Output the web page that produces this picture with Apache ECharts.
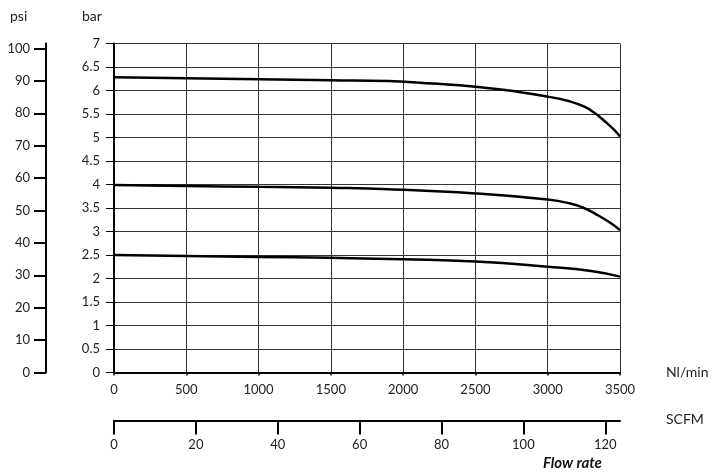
<!DOCTYPE html>
<html><head><meta charset="utf-8">
<script src="https://cdn.jsdelivr.net/npm/echarts@6/dist/echarts.min.js"></script>
<style>html,body{margin:0;padding:0;background:#fff}#c{width:721px;height:476px}</style>
</head><body><div id="c"></div>
<script>
// Flow rate (Nl/min) vs outlet pressure (bar)
var curve63 = [[0,6.28],[500,6.26],[1000,6.24],[1500,6.22],[1900,6.2],[2200,6.15],[2500,6.08],[2800,5.97],[3000,5.87],[3150,5.77],[3250,5.66],[3320,5.53],[3400,5.33],[3460,5.16],[3500,5.02]];
var curve40 = [[0,3.99],[500,3.97],[1000,3.95],[1500,3.93],[1900,3.9],[2500,3.81],[3000,3.68],[3150,3.6],[3250,3.5],[3350,3.34],[3430,3.19],[3500,3.03]];
var curve25 = [[0,2.5],[500,2.48],[1000,2.46],[1500,2.44],[2000,2.41],[2500,2.36],[3000,2.25],[3300,2.16],[3500,2.04]];
var psiTicks = [0,10,20,30,40,50,60,70,80,90,100];
var scfmTicks = [0,20,40,60,80,100,120];
var nlMax = 3500, barMax = 7;
var PSI_PER_BAR = 14.5038, LPM_PER_SCFM = 28.3168;

var font = 'Lato';
var fs = 13;
var chart = echarts.init(document.getElementById('c'));
chart.setOption({
  animation: false,
  backgroundColor: '#fff',
  textStyle: {fontFamily: font},
  grid: {left: 114, right: 101, top: 43.5, bottom: 103.5},
  xAxis: [{
    type: 'value', min: 0, max: nlMax, interval: 500, position: 'bottom',
    axisLine: {lineStyle: {color: '#000', width: 2}},
    axisTick: {show: true, length: 3, lineStyle: {color: '#000', width: 1.5}},
    axisLabel: {color: '#222', fontSize: fs, margin: 11, fontFamily: font, formatter: function (v) { return String(v); }},
    splitLine: {show: true, lineStyle: {color: '#333', width: 1}}
  }, {
    type: 'value', min: 0, max: nlMax / LPM_PER_SCFM, position: 'bottom', offset: 48,
    axisLine: {show: true, onZero: false, lineStyle: {color: '#000', width: 2}},
    axisTick: {show: true, length: 14, customValues: scfmTicks, lineStyle: {color: '#000', width: 2}},
    axisLabel: {color: '#222', fontSize: fs, margin: 18, customValues: scfmTicks, fontFamily: font},
    splitLine: {show: false}
  }],
  yAxis: [{
    type: 'value', min: 0, max: barMax, interval: 0.5, position: 'left',
    axisLine: {show: true, lineStyle: {color: '#000', width: 2}},
    axisTick: {show: true, length: 8, lineStyle: {color: '#000', width: 1}},
    axisLabel: {color: '#222', fontSize: fs, margin: 14, fontFamily: font},
    splitLine: {show: true, lineStyle: {color: '#333', width: 1}}
  }, {
    type: 'value', min: 0, max: barMax * PSI_PER_BAR, position: 'left', offset: 68,
    axisLine: {show: true, onZero: false, lineStyle: {color: '#000', width: 2}},
    axisTick: {show: true, length: 12, customValues: psiTicks, lineStyle: {color: '#000', width: 2}},
    axisLabel: {color: '#222', fontSize: fs, margin: 16, customValues: psiTicks, fontFamily: font},
    splitLine: {show: false}
  }],
  graphic: [
    {type: 'text', left: 10, top: 9, style: {text: 'psi', font: '14px ' + font, fill: '#222'}},
    {type: 'text', left: 82, top: 9, style: {text: 'bar', font: '14px ' + font, fill: '#222'}},
    {type: 'text', left: 666, top: 365, style: {text: 'Nl/min', font: '14px ' + font, fill: '#222'}},
    {type: 'text', left: 666, top: 412, style: {text: 'SCFM', font: '14px ' + font, fill: '#222'}},
    {type: 'text', left: 543, top: 456, style: {text: 'Flow rate', font: 'italic bold 15px ' + font, fill: '#111'}}
  ],
  series: [curve63, curve40, curve25].map(function (d) {
    return {type: 'line', data: d, xAxisIndex: 0, yAxisIndex: 0, smooth: 0.5, showSymbol: false,
      lineStyle: {color: '#000', width: 2.5}};
  })
});
</script></body></html>
